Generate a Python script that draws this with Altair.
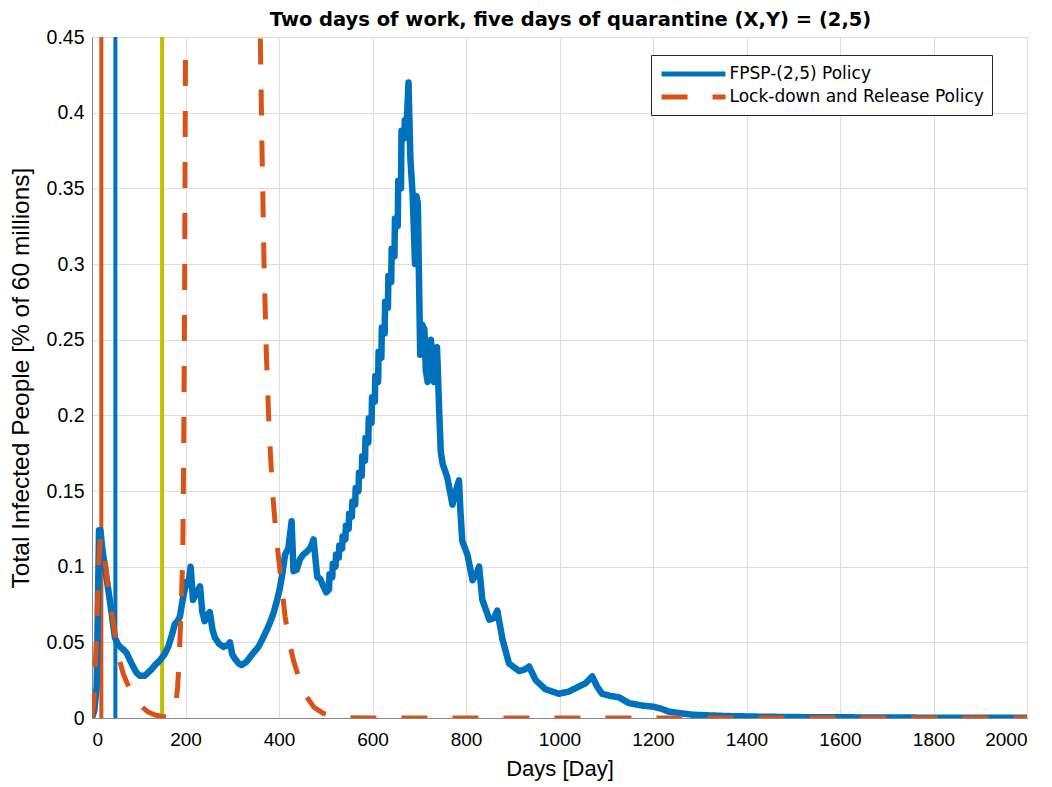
import altair as alt
import pandas as pd

# ---------------- data ----------------
blue_days = [0, 5, 10, 15, 18, 22, 28, 38, 49, 55, 60, 68, 74, 80, 88, 95, 102, 113, 120, 127,
             135, 145, 155, 163, 167, 172, 177, 183, 188, 195, 202, 206, 211, 216, 224, 231, 236,
             241, 247, 252, 258, 263, 272, 281, 290, 295, 300, 306, 314, 320, 330, 345, 356, 366,
             378, 388, 396, 402, 408, 413, 420, 427, 431, 438, 445, 452, 460, 468, 474, 478, 482,
             488, 495, 501,
             507, 508, 514, 515, 521, 522, 528, 529, 535, 536, 542, 543, 549, 550, 556, 557,
             563, 564, 570, 571, 577, 578, 584, 585, 591, 592, 598, 599, 605, 606, 612, 613,
             619, 620, 626, 627, 633, 634, 640, 641, 647, 648, 654, 655, 661, 662, 668, 669,
             673, 677, 681, 686, 691, 694, 697,
             702, 706, 711, 714, 718, 722, 725, 729, 732, 735, 738, 743, 746, 750, 760, 771, 778,
             785, 788, 792, 803, 814, 822, 828, 835, 850, 860, 867, 878, 892, 905, 914, 925, 935,
             949, 970, 999, 1020, 1035, 1056, 1070, 1080, 1091, 1110, 1127, 1148, 1177, 1200, 1219,
             1234, 1283, 1355, 1426, 1500, 1640, 1800, 2000]
blue_vals = [0, 0.005, 0.021, 0.124, 0.124, 0.112, 0.099, 0.078, 0.053, 0.049, 0.047, 0.045, 0.043,
             0.039, 0.034, 0.030, 0.028, 0.028, 0.030, 0.032, 0.035, 0.038, 0.042, 0.047, 0.051,
             0.056, 0.062, 0.064, 0.067, 0.080, 0.090, 0.088, 0.100, 0.078, 0.083, 0.087, 0.070,
             0.064, 0.068, 0.070, 0.058, 0.053, 0.049, 0.047, 0.048, 0.050, 0.042, 0.039, 0.036,
             0.035, 0.037, 0.043, 0.047, 0.053, 0.061, 0.069, 0.078, 0.086, 0.097, 0.108, 0.112,
             0.130, 0.097, 0.098, 0.105, 0.108, 0.110, 0.113, 0.118, 0.105, 0.093, 0.092, 0.087,
             0.083,
             0.085, 0.095, 0.093, 0.102, 0.100, 0.108, 0.106, 0.114, 0.112, 0.120, 0.118, 0.127,
             0.125, 0.135, 0.133, 0.143, 0.141, 0.152, 0.150, 0.162, 0.160, 0.173, 0.170, 0.185,
             0.182, 0.198, 0.195, 0.212, 0.209, 0.226, 0.222, 0.242, 0.238, 0.258, 0.254, 0.275,
             0.271, 0.292, 0.288, 0.310, 0.305, 0.330, 0.325, 0.355, 0.350, 0.388, 0.383, 0.395,
             0.392, 0.420, 0.370, 0.345, 0.300, 0.345, 0.340,
             0.240, 0.260, 0.257, 0.230,
             0.222, 0.245, 0.250, 0.230, 0.222, 0.235, 0.245, 0.200, 0.176, 0.168, 0.159, 0.141,
             0.150, 0.157, 0.137, 0.117, 0.108, 0.091, 0.095, 0.100, 0.078, 0.065, 0.066, 0.071,
             0.052, 0.036, 0.033, 0.031, 0.032, 0.034, 0.025, 0.019, 0.016, 0.0175, 0.0198, 0.023,
             0.0275, 0.021, 0.016, 0.0145, 0.0137, 0.0099, 0.0082, 0.0075, 0.006, 0.0042, 0.0022,
             0.0013, 0.0009, 0.0006, 0.0004, 0.0002, 0.0001]

orange_days = [0, 3, 6, 9, 12, 15, 18, 22, 28, 38, 49, 60, 66, 75, 88, 100, 110, 120, 135, 150,
               163, 170, 175, 179, 183, 186, 188, 190, 192, 194, 196, 198, 199, 200, 201, 204,
               210, 230, 260, 290, 320, 340, 350, 355, 358, 360, 364, 368, 373, 379, 386, 394,
               403, 413, 422, 431, 445, 459, 475, 495, 520, 550, 600, 2000]
orange_vals = [0, 0.008, 0.025, 0.05, 0.078, 0.105, 0.119, 0.115, 0.104, 0.078, 0.056, 0.037,
               0.030, 0.023, 0.016, 0.010, 0.0065, 0.004, 0.002, 0.001, 0.0008, 0.0012, 0.003,
               0.008, 0.02, 0.035, 0.051, 0.067, 0.085, 0.105, 0.17, 0.27, 0.36, 0.44, 0.52, 0.70,
               1.0, 1.6, 2.0, 1.9, 1.4, 1.0, 0.75, 0.6, 0.5, 0.45, 0.37, 0.30, 0.24, 0.19, 0.15,
               0.12, 0.095, 0.067, 0.05, 0.038, 0.024, 0.014, 0.007, 0.003, 0.0008, 0.0001, 0, 0]

vline_days = [20, 50, 150]
vline_colors = ["#D95319", "#0072BD", "#BFBF00"]

series_names = ["FPSP-(2,5) Policy", "Lock-down and Release Policy"]
series_colors = ["#0072BD", "#D95319"]
series_widths = [6.5, 5]

x_ticks = list(range(0, 2001, 200))
y_ticks = [0, 0.05, 0.1, 0.15, 0.2, 0.25, 0.3, 0.35, 0.4, 0.45]

# ---------------- tables ----------------
df = pd.concat([
    pd.DataFrame({"day": blue_days, "val": blue_vals, "series": series_names[0],
                  "sw": series_widths[0], "idx": range(len(blue_days))}),
    pd.DataFrame({"day": orange_days, "val": orange_vals, "series": series_names[1],
                  "sw": series_widths[1], "idx": range(len(orange_days))}),
], ignore_index=True)
df_v = pd.DataFrame({"day": vline_days, "col": vline_colors})

FONT = "DejaVu Sans"
TXT = "#262626"
W, H = 935, 681

xscale = alt.Scale(domain=[0, 2000], nice=False, zero=False)
yscale = alt.Scale(domain=[0, 0.45], nice=False, zero=False)

xaxis = alt.Axis(values=x_ticks, format="d", title="Days [Day]", grid=True, ticks=False,
                 labelFontSize=19, titleFontSize=22, labelPadding=12, titlePadding=9,
                 titleFontWeight="normal")
yaxis = alt.Axis(values=y_ticks, format=".2~f", title="Total Infected People [% of 60 millions]",
                 grid=True, ticks=False, labelFontSize=19.5, titleFontSize=24.5, labelPadding=8,
                 titlePadding=13, titleFontWeight="normal")

vlines = alt.Chart(df_v).mark_rule(strokeWidth=4).encode(
    x=alt.X("day:Q", scale=xscale, axis=xaxis),
    color=alt.Color("col:N", scale=None),
)

# horizontal line symbol 64px long inside a 17px legend entry
legend = alt.Legend(orient="none", legendX=559, legendY=18, title=None,
                    symbolType="M-3.76,0H3.76", symbolSize=289, symbolStrokeWidth=5,
                    symbolOffset=23.5, labelOffset=25,
                    labelFontSize=17, labelFont=FONT, labelColor="#000000",
                    padding=8, strokeColor="#262626", fillColor="white",
                    rowPadding=2, labelLimit=400)

lines = alt.Chart(df).mark_line(clip=True, strokeJoin="round", strokeCap="butt").encode(
    x=alt.X("day:Q", scale=xscale, axis=xaxis),
    y=alt.Y("val:Q", scale=yscale, axis=yaxis),
    color=alt.Color("series:N", scale=alt.Scale(domain=series_names, range=series_colors),
                    legend=legend),
    strokeDash=alt.StrokeDash("series:N",
                              scale=alt.Scale(domain=series_names, range=[[1, 0], [26, 25]]),
                              legend=legend),
    strokeWidth=alt.StrokeWidth("sw:Q", scale=None),
    detail="series:N",
    order="idx:Q",
)

chart = alt.layer(vlines, lines).properties(
    width=W, height=H,
    title=alt.Title("Two days of work, five days of quarantine (X,Y) = (2,5)",
                    fontSize=19.5, font=FONT, fontWeight="bold", color="#000000", offset=-3,
                    dx=11),
    autosize=alt.AutoSizeParams(type="none"),
    padding={"left": 84, "top": 29, "right": 17, "bottom": 67},
).configure_view(stroke=TXT, strokeWidth=1).configure_axis(
    labelFont=FONT, titleFont=FONT, labelColor=TXT, titleColor=TXT,
    gridColor="#dfdfdf", gridWidth=1, domain=False,
).configure(background="white")

chart.save("out.html", embed_options={"renderer": "svg", "actions": False})
